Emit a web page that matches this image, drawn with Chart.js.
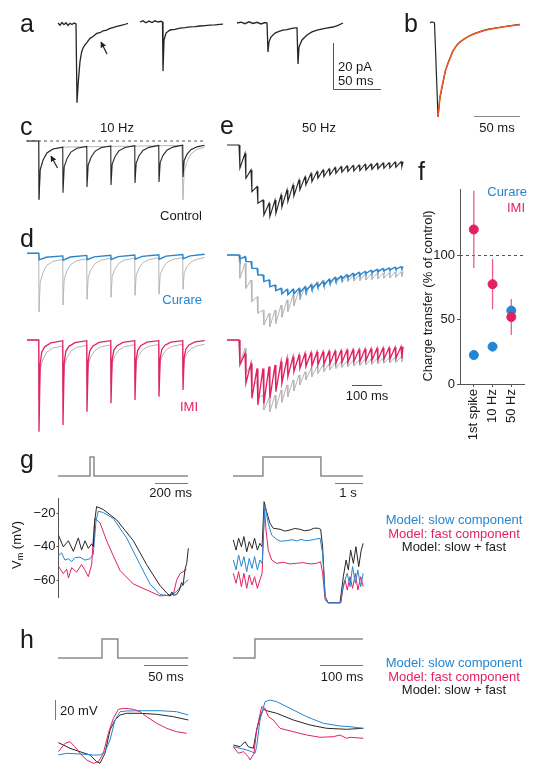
<!DOCTYPE html>
<html>
<head>
<meta charset="utf-8">
<script src="https://cdn.jsdelivr.net/npm/chart.js"></script>
<style>
  html, body { margin: 0; background: #fff; overflow: hidden; }
  #fig { position: relative; width: 536px; height: 765px; overflow: hidden;
         font-family: "Liberation Sans", Arial, Helvetica, sans-serif; color: #1a1a1a; }
  #fig canvas, #fig svg { position: absolute; }
  .t { position: absolute; font-size: 13px; line-height: 15.6px; white-space: nowrap; }
  .big { position: absolute; font-size: 25px; line-height: 25px; }
  .rot { position: absolute; font-size: 13px; white-space: nowrap; transform: translate(-50%, -50%) rotate(-90deg); }
  .rot sub { font-size: 9px; vertical-align: -2px; }
</style>
</head>
<body>
<div id="fig"></div>
<script>
// ---- a: single events (ms, pA) ----
const aTrace1 = [[1,0.4],[3,-0.5],[5,0.6],[7,-0.3],[9,0.5],[11,-0.6],[13,0.3],[15,-0.2],[17,0.4],[19,0],[20,-33.5],[21.3,-24.5],[23,-15.9],[24.7,-11.8],[26,-10.2],[28,-8.9],[30,-7.8],[33,-6.1],[36,-5.3],[39.7,-4],[43,-3.7],[46,-2.9],[49.7,-2.6],[53,-1.9],[56,-1.5],[59,-1.1],[63,-0.7],[66,-0.4],[69,0],[71,0.3]];
const aTrace2 = [[0,0],[3,0.5],[6,-0.3],[9,0.4],[12,-0.2],[15,0.5],[18,0],[21,0.3],[22.5,0],[23,-20.9],[24,-7.7],[26,-4.7],[30,-3.4],[35,-3.1],[40,-2.6],[45,-2.4],[50,-2.1],[55,-2],[60,-1.7],[65,-1.5],[70,-1.3],[75,-1.2],[80,-1],[83,-0.9]];
const aTrace3 = [[0,0],[4,0.4],[8,-0.3],[12,0.5],[16,-0.2],[20,0.3],[24,-0.4],[28,0.2],[30,0],[31,-12.3],[32,-8],[34,-6],[38,-4.3],[42,-3.6],[46,-3],[50,-2.8],[54,-2.4],[58,-2.1],[60,-2.1],[61,-17.4],[62,-10.2],[65,-7.2],[70,-5.1],[75,-3.8],[80,-3],[88,-2.3],[96,-1.7],[101,-1],[106,0]];

// ---- b: averaged event and fit (ms, pA) ----
const bTrace = [[0,0],[2,0.5],[3.3,0.3],[5,0],[6,-10],[8.9,-40],[11,-32],[14.4,-25.5],[17,-20.5],[20,-17],[25.5,-11.8],[30,-9.3],[33.3,-8.1],[38,-6.8],[44.4,-5.3],[50,-4.4],[58.8,-3.2],[65,-2.6],[77.7,-1.8],[88,-1.2],[100,-0.6]];
const bFit = [[8.9,-40],[11,-31.5],[14.4,-25],[17,-20.5],[20,-17.2],[25.5,-12],[30,-9.4],[33.3,-8.1],[38,-6.8],[44.4,-5.4],[50,-4.5],[58.8,-3.4],[65,-2.8],[77.7,-1.9],[88,-1.3],[100,-0.7]];

// ---- c, d: 10 Hz trains (ms, pA) ----
const control10 = [[-50,0],[-1,0],[0,-25],[5,-12.3],[17,-8.1],[33,-5.1],[58,-3.4],[99,-2.6],[100,-22],[105,-11],[117,-7.4],[133,-4.7],[158,-3.1],[199,-2.3],[200,-19.6],[205,-10.2],[217,-6.9],[233,-4.4],[258,-2.9],[299,-2.1],[300,-18.7],[305,-9.8],[317,-6.6],[333,-4.2],[358,-2.8],[399,-2],[400,-17.9],[405,-9.4],[417,-6.3],[433,-4],[458,-2.7],[499,-1.9],[500,-17.4],[505,-9.1],[517,-6.1],[533,-3.9],[558,-2.6],[599,-1.8],[600,-15.3],[605,-8.3],[617,-5.6],[633,-3.7],[658,-2.5],[690,-1.8]];
const control10Gray = [[-50,0],[-1,0],[0,-25],[5,-12.3],[17,-8.1],[33,-5.1],[58,-3.4],[99,-2.6],[595,-1.9],[600,-25],[605,-13],[617,-8.6],[633,-5.5],[658,-3.6],[690,-2.6]];
const baseline10 = [[-54,0],[692,0]];
const curare10 = [[-50,0],[-1,0],[1,-2.8],[30,-1.7],[99,-1.1],[101,-2.9],[130,-1.6],[199,-0.9],[201,-2.7],[230,-1.5],[299,-0.8],[301,-2.6],[330,-1.4],[399,-0.7],[401,-2.5],[430,-1.3],[499,-0.6],[501,-2.5],[530,-1.2],[599,-0.5],[601,-2.3],[630,-1.1],[690,-0.4]];
const imi10 = [[-50,0],[-1,0],[0,-39],[5,-10],[12,-5],[25,-2.8],[50,-1.2],[99,-0.3],[100,-36.2],[105,-9.5],[112,-4.8],[125,-2.7],[150,-1.1],[199,-0.3],[200,-30.5],[205,-8.8],[212,-4.5],[225,-2.5],[250,-1],[299,-0.3],[300,-26.9],[305,-8.2],[312,-4.3],[325,-2.4],[350,-1],[399,-0.3],[400,-25.5],[405,-8],[412,-4.2],[425,-2.3],[450,-0.9],[499,-0.3],[500,-24.1],[505,-7.7],[512,-4],[525,-2.2],[550,-0.9],[599,-0.3],[600,-21.3],[605,-7.2],[612,-3.8],[625,-2.1],[650,-0.8],[690,-0.3]];

// ---- e: 50 Hz trains (stimulus times in ms; levels before / just after each stimulus, pA) ----
const e50Stim = [0,20,40,60,80,100,120,140,160,180,200,220,240,260,280,300,320,340,360,380,400,420,440,460,480,500,520,540];
const e50ControlPre = [0,-3.5,-10.6,-17.7,-23.4,-24.8,-23.4,-21.3,-19.1,-17,-14.9,-13.5,-12.1,-11.3,-10.6,-10.1,-9.6,-9.2,-8.9,-8.7,-8.5,-8.2,-8.1,-7.8,-7.7,-7.5,-7.2,-7.1];
const e50ControlTrough = [-9.9,-14.2,-19.9,-24.8,-29.8,-30.5,-29.1,-26.5,-24.1,-21.7,-19.1,-17,-15.6,-14.2,-13.5,-12.8,-12.1,-11.6,-11.3,-11.1,-10.9,-10.6,-10.4,-10.2,-9.9,-9.8,-9.5,-9.2];
const e50CurarePre = [0,-0.7,-2.8,-5.7,-8.5,-10.6,-12.8,-14.2,-14.6,-14.6,-14.2,-13.5,-12.8,-12.1,-11.3,-10.4,-9.5,-8.9,-8.4,-7.8,-7.4,-7,-6.5,-6.1,-5.8,-5.5,-5.2,-5];
const e50CurareTrough = [-1.8,-2.8,-5.7,-8.5,-11.3,-13.5,-15.2,-16.6,-16.9,-16.6,-16,-15.2,-14.3,-13.5,-12.8,-11.8,-10.9,-10.2,-9.5,-8.9,-8.5,-7.9,-7.5,-7.1,-6.7,-6.4,-6.1,-5.8];
const e50ImiPre = [0,-5.7,-9.9,-12.1,-12.1,-11.3,-10.6,-9.2,-7.8,-7.1,-6.4,-5.7,-5.4,-5.1,-5,-4.8,-4.7,-4.5,-4.3,-4.1,-4,-3.8,-3.7,-3.5,-3.4,-3.3,-3.1,-2.8];
const e50ImiTrough = [-10.6,-18.4,-24.8,-27.7,-27,-24.8,-22,-18.4,-15.6,-13.5,-12.1,-11.3,-11.1,-10.6,-10.4,-10.2,-9.9,-9.6,-9.5,-9.2,-9.1,-8.8,-8.7,-8.5,-8.2,-8.1,-7.8,-7.7];

// ---- f: charge transfer, % of control ----
const fCategories = ['1st spike', '10 Hz', '50 Hz'];
const curareMean = [22.5, 29, 57];
const curareLow = [19, 26, 54];
const curareHigh = [26, 32, 60];
const imiMean = [120, 77.5, 52];
const imiLow = [90, 58, 38];
const imiHigh = [150, 97, 66];
const controlLevel = 100;

// ---- g: model voltage responses (ms or s, mV) ----
const gStimShort = [[0,0],[194,0],[194,1],[218,1],[218,0],[788,0]];
const gStimLong = [[0,0],[1.07,0],[1.07,1],[3.14,1],[3.14,0],[4.64,0]];
const gShortBlack = [[2,-33],[32,-40.1],[63,-36.5],[93,-42.8],[123,-34.8],[143,-41.9],[164,-36.5],[184,-41],[204,-38.3],[214,-40],[222,-25],[234,-16.1],[275,-17.9],[356,-24.1],[457,-36.5],[537,-50.7],[618,-63.2],[659,-67.6],[679,-69.4],[690,-67],[700,-69],[719,-68.5],[735,-66],[749,-61.4],[758,-63],[770,-53.4],[780,-50],[790,-41]];
const gShortSlow = [[2,-45.4],[22,-43.7],[42,-48],[63,-47.2],[83,-48.9],[103,-46.5],[133,-46.3],[164,-48],[194,-47.2],[214,-44.5],[230,-25],[244,-18.8],[275,-19.7],[335,-23.2],[416,-34.8],[497,-50.7],[558,-62.3],[618,-68.5],[679,-69.4],[719,-66.7],[760,-62.3],[790,-59.6]];
const gShortFast = [[2,-51.6],[32,-56.1],[53,-53.4],[63,-58.7],[83,-52.5],[113,-55.2],[143,-50.7],[164,-54.2],[184,-57.9],[204,-50.7],[214,-35],[224,-23.2],[255,-25.9],[295,-36.5],[335,-45.4],[376,-54.2],[457,-62.3],[558,-66.7],[618,-69.4],[699,-68.5],[719,-60],[739,-56.1],[770,-54.2],[780,-53.4]];
const gLongBlack = [[0.01,-36.5],[0.11,-41.9],[0.2,-35.6],[0.3,-40.1],[0.39,-34.7],[0.49,-42.8],[0.58,-37.4],[0.68,-41],[0.77,-35.6],[0.87,-41.9],[0.96,-38.3],[1.04,-40.1],[1.11,-16.1],[1.2,-21.4],[1.32,-27.6],[1.44,-30.3],[1.68,-30.8],[1.85,-31.8],[2.04,-31.2],[2.2,-30.4],[2.39,-30.8],[2.55,-31.6],[2.75,-31.2],[2.9,-30.2],[3.05,-30.3],[3.13,-30.8],[3.2,-40.1],[3.29,-66.7],[3.4,-70],[3.82,-70],[3.88,-63.2],[3.94,-56.1],[4.04,-47.2],[4.12,-52.5],[4.2,-41.9],[4.3,-49],[4.39,-40.1],[4.49,-50.7],[4.58,-41.9],[4.65,-38.3]];
const gLongSlow = [[0.01,-47.2],[0.11,-52.5],[0.2,-44.5],[0.3,-50.7],[0.39,-45.4],[0.49,-53.4],[0.58,-46.3],[0.68,-51.6],[0.77,-45.4],[0.87,-52.5],[0.96,-47.2],[1.04,-49],[1.14,-17.9],[1.26,-27.7],[1.38,-33.9],[1.56,-36.2],[1.7,-37.2],[1.91,-36.9],[2.1,-36.4],[2.3,-37],[2.43,-36.2],[2.6,-36.9],[2.78,-36.6],[2.95,-36.1],[3.11,-35.6],[3.2,-43.6],[3.29,-66.7],[3.4,-70],[3.85,-70],[3.92,-61.4],[4,-57.9],[4.08,-54.3],[4.18,-61.4],[4.27,-50.7],[4.37,-59.6],[4.46,-52.5],[4.56,-61.4],[4.65,-54.3]];
const gLongFast = [[0.01,-54.3],[0.11,-59.6],[0.2,-53.4],[0.3,-61.4],[0.39,-54.3],[0.49,-62.3],[0.58,-55.2],[0.68,-60.5],[0.77,-56.1],[0.87,-62.3],[0.96,-57.9],[1.04,-54.3],[1.12,-18.8],[1.18,-31.2],[1.26,-41.9],[1.38,-47.2],[1.56,-49],[1.8,-48.4],[2.03,-49.3],[2.3,-48.9],[2.51,-48.6],[2.75,-49.3],[2.98,-49],[3.13,-48.1],[3.2,-54.3],[3.29,-68.5],[3.4,-70],[3.85,-70],[3.92,-63.2],[4,-57.9],[4.08,-63.2],[4.18,-56.1],[4.27,-62.3],[4.37,-54.3],[4.46,-63.2],[4.56,-56.1],[4.65,-61.4]];

// ---- h: model responses, fast time scale (ms, mV) ----
const hStimShort = [[0,0],[50,0],[50,1],[68,1],[68,0],[148,0]];
const hStimLong = [[0,0],[51,0],[51,1],[302,1]];
const hShortSlow = [[0.4,-62],[9.8,-60.3],[25,-61],[40.2,-62],[47.7,-62],[53.4,-58.7],[59.1,-47],[64.8,-27],[70.5,-18.7],[78,-18],[93.2,-17.7],[115.9,-17.7],[134.8,-18.7],[148.1,-22]];
const hShortFast = [[0.4,-58.7],[8,-50.3],[13.6,-48.7],[19.3,-53.7],[25,-60.3],[32.6,-67],[40.2,-70.3],[45.8,-68.7],[51.5,-60.3],[57.2,-40.3],[62.9,-25.3],[68.6,-16.3],[76.1,-15.3],[85.6,-16.3],[93.2,-18.7],[100.8,-23.7],[112.1,-30.3],[123.5,-35.3],[134.8,-38.7],[146.2,-40.3]];
const hShortBlack = [[0.4,-49.7],[6.1,-52],[13.6,-55.3],[25,-58.7],[36.4,-62],[44,-68.7],[47.7,-70.3],[53.4,-60.3],[59.1,-37],[64.8,-27],[70.5,-22],[78,-20.3],[93.2,-20.3],[112.1,-21.3],[131.1,-23.7],[148.1,-27]];
const hLongSlow = [[0.8,-53.7],[16.3,-55.3],[31.8,-57],[43.4,-58.7],[51.2,-60.3],[55,-53.7],[62.8,-27],[74.4,-8.7],[86,-7],[101.6,-8.7],[132.6,-15.3],[171.3,-23.7],[210.1,-30.3],[248.8,-33],[272.1,-33.7],[303.1,-35.3]];
const hLongFast = [[0.8,-53.7],[12.4,-60.3],[24,-58.7],[35.7,-63.7],[39.5,-67],[48.8,-60.3],[55,-37],[66.7,-13.7],[74.4,-15.3],[82.2,-23.7],[93.8,-27],[109.3,-35.3],[140.3,-38.7],[171.3,-42],[202.3,-44.3],[233.3,-43.7],[248.8,-42],[264.3,-45.3],[272.1,-44.3],[303.1,-45.3]];
const hLongBlack = [[0.8,-52],[16.3,-53.7],[27.9,-48.7],[35.7,-53.7],[47.3,-55.3],[55,-37],[62.8,-23.7],[70.5,-16.3],[78.3,-17.7],[101.6,-20.3],[140.3,-27],[179.1,-32],[217.8,-35.3],[264.3,-36.3],[303.1,-35.3]];

const BLACK = '#262626', GRAY = '#b5b5b5', BLUE = '#2585d0', PINK = '#e41f63', ORANGE = '#f05a22', STIM = '#8a8a8a';
const FONT = '"Liberation Sans", Arial, Helvetica, sans-serif';
Chart.defaults.font.family = FONT;

const fig = document.getElementById('fig');

function sawtooth(pre, trough) {
    let pts = [[-40, 0]];
    e50Stim.forEach(function (t, i) {
        pts.push([t, pre[i]], [t + 3, trough[i]]);
    });
    pts.push([547, pre[pre.length - 1]]);
    return pts;
}

// box = canvas [left, top, width, height] on the page
// map = [page x of t=0, px per x unit, page y of v=0, px per y unit]
function plot(box, map, sets, axis) {
    const [L, T, W, H] = box;
    const [x0, xs, y0, ys] = map;
    const pad = axis ? axis.pad : [0, 0, 0, 0];
    const aL = L + pad[0], aT = T + pad[1], aR = L + W - pad[2], aB = T + H - pad[3];
    const c = document.createElement('canvas');
    c.width = W; c.height = H;
    c.style.left = L + 'px'; c.style.top = T + 'px';
    fig.appendChild(c);

    let yScale = { type: 'linear', display: false, min: (y0 - aB) / ys, max: (y0 - aT) / ys };
    if (axis) {
        yScale = Object.assign(yScale, {
            display: true,
            afterFit: function (s) { s.width = pad[0]; },
            afterBuildTicks: function (s) { s.ticks = axis.ticks.map(v => ({ value: v })); },
            ticks: { font: { size: 13 }, color: '#1a1a1a', padding: 1,
                     callback: v => String(v).replace('-', '\u2212') },
            grid: { display: true, drawOnChartArea: false, drawTicks: true, tickLength: 2, color: '#555' },
            border: { display: true, color: '#555', width: 1 }
        });
    }

    new Chart(c, {
        type: 'line',
        data: {
            datasets: sets.map((s, i) => ({
                data: s.data.map(p => ({ x: p[0], y: p[1] })),
                borderColor: s.color,
                borderWidth: s.width || 1,
                borderDash: s.dash || [],
                pointRadius: 0,
                fill: false,
                tension: 0,
                order: sets.length - i
            }))
        },
        options: {
            responsive: false,
            animation: false,
            events: [],
            layout: { padding: axis ? { left: 0, top: pad[1], right: pad[2], bottom: pad[3] } : 0 },
            plugins: { legend: { display: false }, tooltip: { enabled: false } },
            scales: {
                x: { type: 'linear', display: false, min: (aL - x0) / xs, max: (aR - x0) / xs },
                y: yScale
            }
        }
    });
}

function text(str, x, cy, align, color) {
    const d = document.createElement('div');
    d.className = 't';
    d.textContent = str;
    d.style.top = (cy - 7.7) + 'px';
    if (align === 'right') d.style.right = (536 - x) + 'px';
    else if (align === 'center') { d.style.left = x + 'px'; d.style.transform = 'translateX(-50%)'; }
    else d.style.left = x + 'px';
    if (color) d.style.color = color;
    fig.appendChild(d);
}

function letter(ch, x, baseline) {
    const d = document.createElement('div');
    d.className = 'big';
    d.textContent = ch;
    d.style.left = x + 'px';
    d.style.top = (baseline - 21) + 'px';
    fig.appendChild(d);
}

function vtext(html, cx, cy) {
    const d = document.createElement('div');
    d.className = 'rot';
    d.innerHTML = html;
    d.style.left = cx + 'px';
    d.style.top = cy + 'px';
    fig.appendChild(d);
}

// a
plot([50, 12, 85, 95], [57, 1, 24, 2.35], [{ data: aTrace1, color: BLACK, width: 1.3 }]);
plot([135, 12, 95, 95], [140, 1, 22, 2.35], [{ data: aTrace2, color: BLACK, width: 1.3 }]);
plot([232, 12, 118, 95], [237, 1, 23, 2.35], [{ data: aTrace3, color: BLACK, width: 1.3 }]);
// b
plot([425, 12, 100, 110], [430, 0.9, 23, 2.35], [
    { data: bTrace, color: BLACK, width: 1.2 },
    { data: bFit, color: ORANGE, width: 1.5 }
]);
// c
plot([20, 136, 190, 70], [39, 0.24, 141, 2.35], [
    { data: baseline10, color: '#555', dash: [3, 3] },
    { data: control10Gray, color: GRAY },
    { data: control10, color: BLACK, width: 1.1 }
]);
// d
plot([20, 240, 190, 80], [39, 0.24, 253.3, 2.35], [
    { data: control10, color: GRAY },
    { data: curare10, color: BLUE, width: 1.4 }
]);
plot([20, 330, 190, 110], [39, 0.24, 340, 2.35], [
    { data: control10, color: GRAY },
    { data: imi10, color: PINK, width: 1.3 }
]);
// e
plot([222, 136, 185, 90], [239, 0.3, 145, 2.35], [
    { data: sawtooth(e50ControlPre, e50ControlTrough), color: BLACK, width: 1.1 }
]);
plot([222, 240, 185, 95], [239, 0.3, 255, 2.35], [
    { data: sawtooth(e50ControlPre, e50ControlTrough), color: GRAY },
    { data: sawtooth(e50CurarePre, e50CurareTrough), color: BLUE, width: 1.4 }
]);
plot([222, 330, 185, 90], [239, 0.3, 340, 2.35], [
    { data: sawtooth(e50ControlPre, e50ControlTrough), color: GRAY },
    { data: sawtooth(e50ImiPre, e50ImiTrough), color: PINK, width: 1.3 }
]);

// f
(function () {
    const c = document.createElement('canvas');
    c.width = 125; c.height = 270;
    c.style.left = '405px'; c.style.top = '180px';
    fig.appendChild(c);

    const pointsOf = arr => arr.map((v, i) => ({ x: i, y: v }));
    const barsOf = (lo, hi) => {
        let out = [];
        lo.forEach((v, i) => out.push({ x: i, y: v }, { x: i, y: hi[i] }, { x: i, y: null }));
        return out;
    };

    const refLine = {
        id: 'refLine',
        beforeDatasetsDraw(chart) {
            const { ctx, chartArea } = chart;
            const y = Math.round(chart.scales.y.getPixelForValue(controlLevel)) + 0.5;
            ctx.save();
            ctx.strokeStyle = '#555';
            ctx.lineWidth = 1;
            ctx.setLineDash([3, 3]);
            ctx.beginPath();
            ctx.moveTo(chartArea.left, y);
            ctx.lineTo(chartArea.right, y);
            ctx.stroke();
            ctx.restore();
        }
    };

    const axisStyle = {
        grid: { display: true, drawOnChartArea: false, drawTicks: true, tickLength: 3, color: '#555' },
        border: { display: true, color: '#555', width: 1 }
    };

    new Chart(c, {
        type: 'scatter',
        data: {
            datasets: [
                { data: pointsOf(imiMean), backgroundColor: PINK, borderColor: PINK, pointRadius: 4.5, order: 0 },
                { data: pointsOf(curareMean), backgroundColor: BLUE, borderColor: BLUE, pointRadius: 4.5, order: 1 },
                { type: 'line', data: barsOf(imiLow, imiHigh), borderColor: '#ec5c8a', borderWidth: 1.3, pointRadius: 0, spanGaps: false, order: 2 },
                { type: 'line', data: barsOf(curareLow, curareHigh), borderColor: BLUE, borderWidth: 1.3, pointRadius: 0, spanGaps: false, order: 3 }
            ]
        },
        options: {
            responsive: false,
            animation: false,
            events: [],
            layout: { padding: { top: 8, right: 5, left: 0, bottom: 0 } },
            plugins: { legend: { display: false }, tooltip: { enabled: false } },
            scales: {
                x: Object.assign({
                    type: 'linear', min: -0.737, max: 2.684,
                    afterBuildTicks: s => { s.ticks = fCategories.map((_, i) => ({ value: i })); },
                    afterFit: s => { s.height = 66; },
                    ticks: { callback: v => fCategories[v], minRotation: 90, maxRotation: 90,
                             font: { size: 13 }, color: '#1a1a1a', padding: 2 }
                }, axisStyle),
                y: Object.assign({
                    type: 'linear', min: 0, max: 150.8,
                    afterBuildTicks: s => { s.ticks = [0, 50, 100].map(v => ({ value: v })); },
                    afterFit: s => { s.width = 55; },
                    ticks: { font: { size: 13 }, color: '#1a1a1a', padding: 2 }
                }, axisStyle)
            }
        },
        plugins: [refLine]
    });
})();

// g
plot([55, 450, 136, 30], [58, 0.165, 476, 19], [{ data: gStimShort, color: STIM, width: 1.5 }]);
plot([230, 450, 136, 30], [233, 28, 476, 19], [{ data: gStimLong, color: STIM, width: 1.5 }]);
plot([20, 490, 175, 116], [58, 0.165, 471.5, 1.875], [
    { data: gShortFast, color: PINK },
    { data: gShortSlow, color: BLUE },
    { data: gShortBlack, color: BLACK }
], { pad: [38.5, 3, 0, 3], ticks: [-60, -40, -20] });
plot([230, 490, 136, 116], [233, 28, 471.5, 1.875], [
    { data: gLongBlack, color: BLACK },
    { data: gLongFast, color: PINK },
    { data: gLongSlow, color: BLUE }
]);

// h
plot([55, 632, 136, 30], [58, 0.88, 658, 19], [{ data: hStimShort, color: STIM, width: 1.5 }]);
plot([230, 632, 136, 30], [233, 0.43, 658, 19], [{ data: hStimLong, color: STIM, width: 1.5 }]);
plot([55, 695, 136, 70], [58, 0.88, 693, 1], [
    { data: hShortBlack, color: BLACK },
    { data: hShortSlow, color: BLUE },
    { data: hShortFast, color: PINK }
]);
plot([230, 695, 136, 70], [233, 0.43, 693, 1], [
    { data: hLongBlack, color: BLACK },
    { data: hLongSlow, color: BLUE },
    { data: hLongFast, color: PINK }
]);

// scale bars and arrows
fig.insertAdjacentHTML('beforeend',
  '<svg width="536" height="765" style="left:0;top:0">' +
  '<defs><marker id="ah" viewBox="0 0 10 10" refX="9" refY="5" markerWidth="5" markerHeight="5" orient="auto">' +
  '<path d="M0,0 L10,5 L0,10 z" fill="#222"/></marker></defs>' +
  '<g fill="none" stroke="#555" stroke-width="1">' +
  '<polyline points="333.5,43 333.5,89.5 381,89.5"/>' +
  '<line x1="474" y1="116.5" x2="520" y2="116.5" stroke="#888"/>' +
  '<line x1="352" y1="385.5" x2="382" y2="385.5"/>' +
  '<line x1="155" y1="483.5" x2="188" y2="483.5" stroke="#777"/>' +
  '<line x1="335" y1="483.5" x2="363" y2="483.5" stroke="#777"/>' +
  '<line x1="144" y1="665.5" x2="188" y2="665.5" stroke="#777"/>' +
  '<line x1="320" y1="665.5" x2="363" y2="665.5" stroke="#777"/>' +
  '<line x1="55.5" y1="700" x2="55.5" y2="720" stroke="#777"/>' +
  '</g>' +
  '<g stroke="#222" stroke-width="1.2">' +
  '<line x1="107" y1="54" x2="101" y2="42" marker-end="url(#ah)"/>' +
  '<line x1="57.5" y1="168" x2="51" y2="156" marker-end="url(#ah)"/>' +
  '</g></svg>');

// labels
letter('a', 20, 32); letter('b', 404, 32);
letter('c', 20, 135); letter('e', 220, 134); letter('f', 418, 180);
letter('d', 20, 247);
letter('g', 20, 468); letter('h', 20, 648);

text('20 pA', 338, 67); text('50 ms', 338, 81);
text('50 ms', 497, 128, 'center');
text('10 Hz', 100, 128); text('50 Hz', 302, 128);
text('Control', 202, 216, 'right');
text('Curare', 202, 300, 'right', BLUE);
text('IMI', 198, 407, 'right', PINK);
text('100 ms', 367, 396, 'center');
text('Curare', 527, 192, 'right', BLUE);
text('IMI', 525, 208, 'right', PINK);
vtext('Charge transfer (% of control)', 427, 296);

text('200 ms', 192, 493, 'right');
text('1 s', 348, 493, 'center');
vtext('V<sub>m</sub> (mV)', 17, 545);
text('Model: slow component', 454, 520, 'center', BLUE);
text('Model: fast component', 454, 534, 'center', PINK);
text('Model: slow + fast', 454, 547, 'center');

text('50 ms', 166, 677, 'center');
text('100 ms', 342, 677, 'center');
text('20 mV', 60, 711);
text('Model: slow component', 454, 663, 'center', BLUE);
text('Model: fast component', 454, 677, 'center', PINK);
text('Model: slow + fast', 454, 690, 'center');
</script>
</body>
</html>
